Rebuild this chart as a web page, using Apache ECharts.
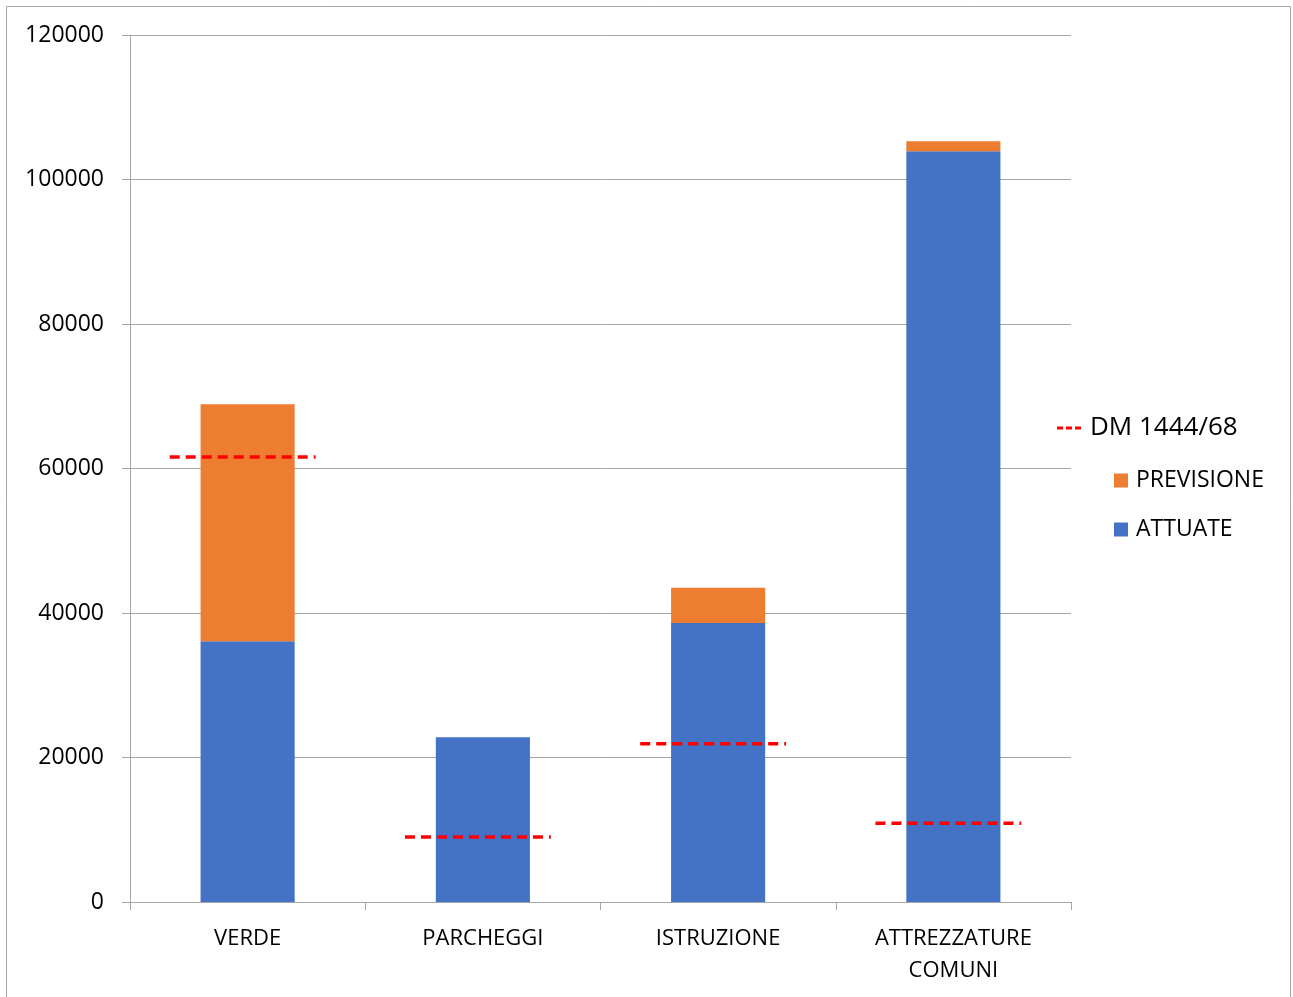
<!DOCTYPE html>
<html>
<head>
<meta charset="utf-8">
<script src="https://cdn.jsdelivr.net/npm/echarts@6/dist/echarts.min.js"></script>
<style>
  html, body { margin: 0; padding: 0; background: #fff; }
  #chart { width: 1293px; height: 997px; }
</style>
</head>
<body>
<div id="chart"></div>
<script>
const categories = ['VERDE', 'PARCHEGGI', 'ISTRUZIONE', 'ATTREZZATURE\nCOMUNI']
const attuate = [36100, 22800, 38600, 103900]
const previsione = [32800, 0, 4900, 1400]
const dm1444 = [61600, 9000, 21900, 10900]
const yTicks = { min: 0, max: 120000, interval: 20000 }

const FONT = '"Open Sans", "Noto Sans", sans-serif'
const AXIS_GRAY = '#A6A6A6'
const TEXT = '#000'

const chart = echarts.init(document.getElementById('chart'), null, { renderer: 'canvas' })

chart.setOption({
  backgroundColor: '#fff',
  animation: false,
  grid: { left: 130, right: 222, top: 35, bottom: 95 },
  graphic: [
    {
      type: 'rect',
      shape: { x: 6.5, y: 6.5, width: 1284, height: 1000 },
      style: { fill: 'none', stroke: AXIS_GRAY, lineWidth: 1 },
      silent: true,
    },
  ],
  legend: [
    {
      orient: 'vertical',
      left: 1057,
      top: 415,
      padding: 0,
      itemWidth: 24,
      itemHeight: 3,
      data: [{ name: 'DM 1444/68', icon: 'path://M0,0h6v3h-6z M9,0h6v3h-6z M18,0h6v3h-6z' }],
      itemStyle: { color: '#FF0000' },
      textStyle: { fontFamily: FONT, fontSize: 26, color: TEXT, padding: [0, 0, 0, 4] },
    },
    {
      orient: 'vertical',
      left: 1114,
      top: 469,
      padding: 0,
      itemWidth: 14,
      itemHeight: 14,
      itemGap: 26,
      icon: 'rect',
      data: ['PREVISIONE', 'ATTUATE'],
      textStyle: { fontFamily: FONT, fontSize: 23, lineHeight: 23, color: TEXT, padding: [0, 0, 0, 3] },
    },
  ],
  xAxis: {
    type: 'category',
    data: categories,
    boundaryGap: true,
    axisLine: { show: true, lineStyle: { color: AXIS_GRAY, width: 1 } },
    axisTick: { show: true, length: 8, lineStyle: { color: AXIS_GRAY } },
    axisLabel: {
      fontFamily: FONT,
      fontSize: 22,
      lineHeight: 32,
      color: TEXT,
      margin: 21,
      interval: 0,
    },
  },
  yAxis: {
    type: 'value',
    min: yTicks.min,
    max: yTicks.max,
    interval: yTicks.interval,
    axisLine: { show: true, lineStyle: { color: AXIS_GRAY, width: 1 } },
    axisTick: { show: true, length: 8, lineStyle: { color: AXIS_GRAY } },
    splitLine: { show: true, lineStyle: { color: AXIS_GRAY, width: 1 } },
    axisLabel: {
      fontFamily: FONT,
      fontSize: 23,
      color: TEXT,
      margin: 26,
      padding: [4, 0, 0, 0],
      formatter: (v) => String(v),
    },
  },
  series: [
    {
      name: 'ATTUATE',
      type: 'bar',
      stack: 'tot',
      barWidth: '40%',
      data: attuate,
      itemStyle: { color: '#4472C4' },
    },
    {
      name: 'PREVISIONE',
      type: 'bar',
      stack: 'tot',
      barWidth: '40%',
      data: previsione,
      itemStyle: { color: '#ED7D31' },
    },
    {
      name: 'DM 1444/68',
      type: 'custom',
      data: dm1444.map((v, i) => [i, v]),
      encode: { x: 0, y: 1 },
      itemStyle: { color: '#FF0000' },
      z: 5,
      renderItem(params, api) {
        const c = api.coord([api.value(0), api.value(1)])
        const w = api.size([1, 0])[0] * 0.62
        return {
          type: 'line',
          shape: { x1: c[0] - w / 2 - 5, y1: c[1], x2: c[0] + w / 2 - 5, y2: c[1] },
          style: { stroke: '#FF0000', lineWidth: 3.5, lineDash: [10, 6] },
        }
      },
    },
  ],
})
</script>
</body>
</html>
